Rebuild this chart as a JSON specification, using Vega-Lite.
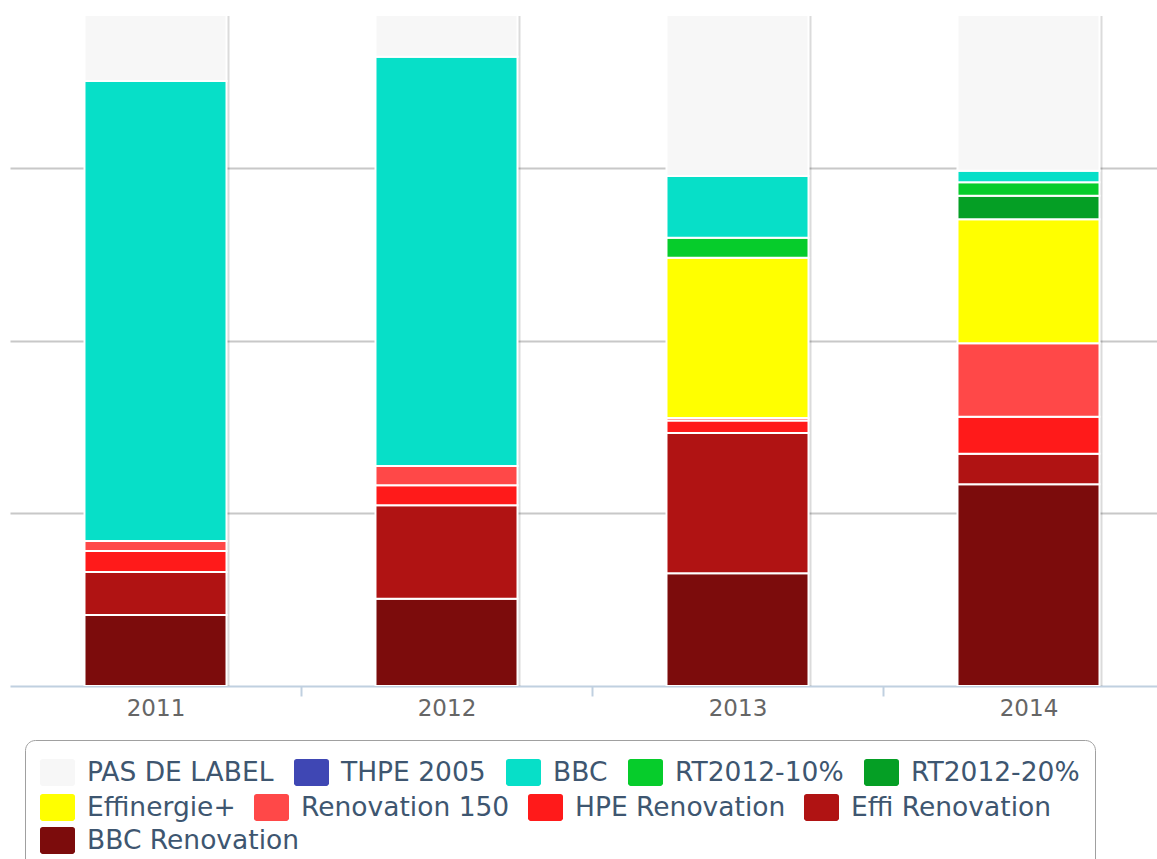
{
  "$schema": "https://vega.github.io/schema/vega-lite/v6.json",
  "width": 1147,
  "height": 670,
  "autosize": {"type": "none"},
  "padding": {"left": 10, "top": 16, "right": 0, "bottom": 173},
  "config": {"view": {"stroke": null}, "font": "DejaVu Sans"},
  "data": {
    "values": [
      {"year": "2011", "series": "BBC Renovation", "value": 10.28},
      {"year": "2011", "series": "Effi Renovation", "value": 6.23},
      {"year": "2011", "series": "HPE Renovation", "value": 3.04},
      {"year": "2011", "series": "Renovation 150", "value": 1.45},
      {"year": "2011", "series": "BBC", "value": 66.6},
      {"year": "2011", "series": "PAS DE LABEL", "value": 12.41},
      {"year": "2012", "series": "BBC Renovation", "value": 12.64},
      {"year": "2012", "series": "Effi Renovation", "value": 13.52},
      {"year": "2012", "series": "HPE Renovation", "value": 2.9},
      {"year": "2012", "series": "Renovation 150", "value": 2.79},
      {"year": "2012", "series": "BBC", "value": 59.26},
      {"year": "2012", "series": "PAS DE LABEL", "value": 8.89},
      {"year": "2013", "series": "BBC Renovation", "value": 16.32},
      {"year": "2013", "series": "Effi Renovation", "value": 20.31},
      {"year": "2013", "series": "HPE Renovation", "value": 1.81},
      {"year": "2013", "series": "Renovation 150", "value": 0.36},
      {"year": "2013", "series": "Effinergie+", "value": 23.21},
      {"year": "2013", "series": "RT2012-10%", "value": 2.9},
      {"year": "2013", "series": "BBC", "value": 8.93},
      {"year": "2013", "series": "PAS DE LABEL", "value": 26.16},
      {"year": "2014", "series": "BBC Renovation", "value": 29.2},
      {"year": "2014", "series": "Effi Renovation", "value": 4.43},
      {"year": "2014", "series": "HPE Renovation", "value": 5.36},
      {"year": "2014", "series": "Renovation 150", "value": 10.63},
      {"year": "2014", "series": "Effinergie+", "value": 17.95},
      {"year": "2014", "series": "RT2012-20%", "value": 3.42},
      {"year": "2014", "series": "RT2012-10%", "value": 1.94},
      {"year": "2014", "series": "BBC", "value": 1.68},
      {"year": "2014", "series": "PAS DE LABEL", "value": 25.39}
    ]
  },
  "transform": [
    {"calculate": "indexof(['BBC Renovation','Effi Renovation','HPE Renovation','Renovation 150','Effinergie+','RT2012-20%','RT2012-10%','BBC','THPE 2005','PAS DE LABEL'], datum.series)", "as": "rank"}
  ],
  "layer": [
    {
      "mark": {"type": "bar", "color": "#000000", "opacity": 0.14, "xOffset": 3, "clip": true},
      "encoding": {
        "x": {
          "field": "year",
          "type": "nominal",
          "scale": {"domain": ["2011", "2012", "2013", "2014"], "range": [0, 1164], "paddingInner": 0.512, "paddingOuter": 0.256},
          "axis": {
            "title": null,
            "labelAngle": 0,
            "labelFontSize": 23,
            "labelColor": "#666666",
            "labelFont": "DejaVu Sans",
            "labelPadding": 1,
            "tickOffset": 145.5,
            "labelOffset": -145.5,
            "tickSize": 10,
            "tickWidth": 2,
            "tickColor": "#c0d0e0",
            "domainColor": "#c0d0e0",
            "domainWidth": 2,
            "grid": false
          }
        },
        "y": {
          "field": "value",
          "type": "quantitative",
          "stack": "zero",
          "scale": {"domain": [0, 97], "nice": false, "zero": true},
          "axis": {
            "title": null,
            "labels": false,
            "ticks": false,
            "domain": false,
            "grid": true,
            "gridColor": "#c8c8c8",
            "gridWidth": 2,
            "values": [25, 50, 75]
          }
        },
        "order": {"field": "rank", "type": "quantitative", "sort": "ascending"}
      }
    },
    {
      "mark": {"type": "bar", "stroke": "#ffffff", "strokeWidth": 2, "clip": true, "opacity": 1},
      "encoding": {
        "x": {"field": "year", "type": "nominal"},
        "y": {"field": "value", "type": "quantitative", "stack": "zero"},
        "order": {"field": "rank", "type": "quantitative", "sort": "ascending"},
        "color": {
          "field": "series",
          "type": "nominal",
          "scale": {
            "domain": ["PAS DE LABEL", "THPE 2005", "BBC", "RT2012-10%", "RT2012-20%", "Effinergie+", "Renovation 150", "HPE Renovation", "Effi Renovation", "BBC Renovation"],
            "range": ["#f7f7f7", "#3f47b4", "#07dfc8", "#06cc2b", "#059f25", "#ffff00", "#ff4848", "#ff1a1a", "#b01313", "#7c0c0c"]
          },
          "legend": {
            "title": [" ", " ", " "],
            "titleOrient": "bottom",
            "titleFontSize": 26,
            "titlePadding": 4,
            "values": ["PAS DE LABEL", "THPE 2005", "BBC", "RT2012-10%", "RT2012-20%"],
            "orient": "none",
            "direction": "horizontal",
            "legendX": 15,
            "legendY": 724,
            "symbolType": "M-0.85,-0.77H0.85A0.15,0.15,0,0,1,1,-0.62V0.62A0.15,0.15,0,0,1,0.85,0.77H-0.85A0.15,0.15,0,0,1,-1,0.62V-0.62A0.15,0.15,0,0,1,-0.85,-0.77Z",
            "symbolSize": 1225,
            "symbolStrokeWidth": 0,
            "symbolOpacity": 1,
            "labelFont": "DejaVu Sans",
            "labelFontSize": 26.5,
            "labelColor": "#3e5670",
            "labelOffset": 12,
            "labelLimit": 400,
            "columnPadding": 20,
            "padding": 15,
            "strokeColor": "#a0a0a0",
            "cornerRadius": 10,
            "encode": {"legend": {"update": {"strokeWidth": {"value": 2}}}}
          }
        }
      }
    },
    {
      "transform": [{"filter": {"field": "series", "oneOf": ["Effinergie+", "Renovation 150", "HPE Renovation", "Effi Renovation"]}}],
      "mark": {"type": "point", "filled": true, "opacity": 1, "size": 1225, "clip": true, "shape": "M-0.85,-0.77H0.85A0.15,0.15,0,0,1,1,-0.62V0.62A0.15,0.15,0,0,1,0.85,0.77H-0.85A0.15,0.15,0,0,1,-1,0.62V-0.62A0.15,0.15,0,0,1,-0.85,-0.77Z"},
      "encoding": {
        "x": {"field": "year", "type": "nominal"},
        "y": {"datum": -20, "type": "quantitative"},
        "fill": {
          "field": "series",
          "type": "nominal",
          "scale": {
            "domain": ["Effinergie+", "Renovation 150", "HPE Renovation", "Effi Renovation"],
            "range": ["#ffff00", "#ff4848", "#ff1a1a", "#b01313"]
          },
          "legend": {
            "title": null,
            "orient": "none",
            "direction": "horizontal",
            "legendX": 30,
            "legendY": 774,
            "symbolType": "M-0.85,-0.77H0.85A0.15,0.15,0,0,1,1,-0.62V0.62A0.15,0.15,0,0,1,0.85,0.77H-0.85A0.15,0.15,0,0,1,-1,0.62V-0.62A0.15,0.15,0,0,1,-0.85,-0.77Z",
            "symbolSize": 1225,
            "symbolStrokeWidth": 0,
            "symbolOpacity": 1,
            "labelFont": "DejaVu Sans",
            "labelFontSize": 26.5,
            "labelColor": "#3e5670",
            "labelOffset": 12,
            "labelLimit": 400,
            "columnPadding": 18,
            "padding": 0
          }
        }
      }
    },
    {
      "transform": [{"filter": {"field": "series", "equal": "BBC Renovation"}}],
      "mark": {"type": "point", "filled": true, "opacity": 1, "size": 1225, "clip": true, "color": "#7c0c0c"},
      "encoding": {
        "x": {"field": "year", "type": "nominal"},
        "y": {"datum": -20, "type": "quantitative"},
        "shape": {
          "field": "series",
          "type": "nominal",
          "scale": {
            "domain": ["BBC Renovation"],
            "range": ["M-0.85,-0.77H0.85A0.15,0.15,0,0,1,1,-0.62V0.62A0.15,0.15,0,0,1,0.85,0.77H-0.85A0.15,0.15,0,0,1,-1,0.62V-0.62A0.15,0.15,0,0,1,-0.85,-0.77Z"]
          },
          "legend": {
            "title": null,
            "orient": "none",
            "direction": "horizontal",
            "legendX": 30,
            "legendY": 807,
            "symbolSize": 1225,
            "symbolFillColor": "#7c0c0c",
            "symbolStrokeWidth": 0,
            "symbolOpacity": 1,
            "labelFont": "DejaVu Sans",
            "labelFontSize": 26.5,
            "labelColor": "#3e5670",
            "labelOffset": 12,
            "labelLimit": 400,
            "padding": 0
          }
        }
      }
    }
  ]
}
